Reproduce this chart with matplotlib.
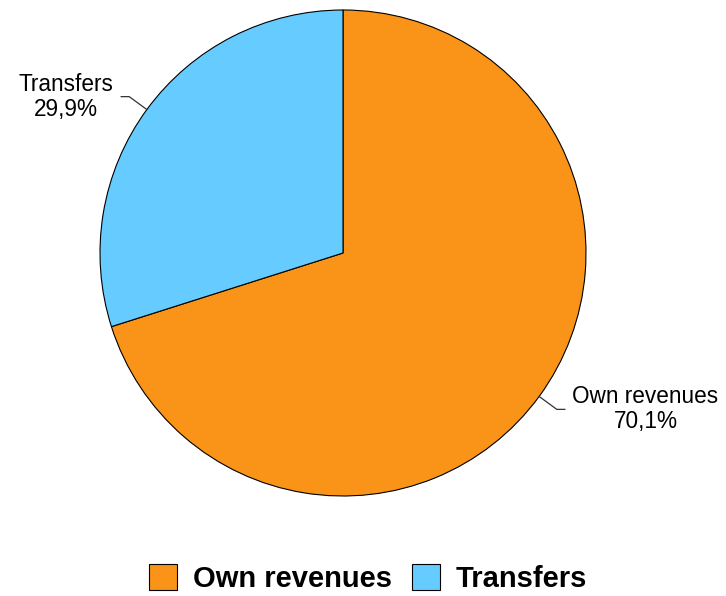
import numpy as np
import matplotlib
matplotlib.use("Agg")
import matplotlib.pyplot as plt

# data
labels = ["Own revenues", "Transfers"]
shares = [70.1, 29.9]
pct_text = ["70,1%", "29,9%"]
colors = ["#F99419", "#66CCFF"]

plt.rcParams["font.family"] = ["Liberation Sans", "DejaVu Sans"]

W, H = 726, 596
fig = plt.figure(figsize=(W / 100, H / 100), dpi=100)

# pie area: centre (343, 253) px, radius 243 px
cx, cy, r = 343, 253, 243
ax = fig.add_axes([(cx - r) / W, (H - cy - r) / H, 2 * r / W, 2 * r / H])
wedges, _ = ax.pie(
    shares, colors=colors, startangle=90, counterclock=False,
    wedgeprops=dict(edgecolor="black", linewidth=0.8),
)
ax.set_xlim(-1, 1)
ax.set_ylim(-1, 1)
ax.set_aspect("equal")
ax.axis("off")

# labels with elbow leader lines
for w, lab, pt in zip(wedges, labels, pct_text):
    ang = np.deg2rad((w.theta1 + w.theta2) / 2)
    x0, y0 = np.cos(ang), np.sin(ang)
    x1, y1 = 1.09 * x0, 1.09 * y0
    side = np.sign(x0)
    x2 = x1 + side * 0.033
    ax.plot([x0, x1, x2], [y0, y1, y1], color="#333333", lw=0.9, clip_on=False)
    tx = x1 + side * (0.365 if side > 0 else 0.26)
    ax.text(tx, y1, f"{lab}\n{pt}", ha="center", va="center",
            fontsize=16.3, linespacing=1.1, clip_on=False)

leg = fig.legend(
    wedges, labels, loc="center", bbox_to_anchor=(0.507, 0.029),
    ncol=2, frameon=False, prop=dict(weight="bold", size=21),
    handlelength=0.95, handleheight=0.95, handletextpad=0.55, columnspacing=0.7,
)

fig.savefig("out.png", dpi=100)
